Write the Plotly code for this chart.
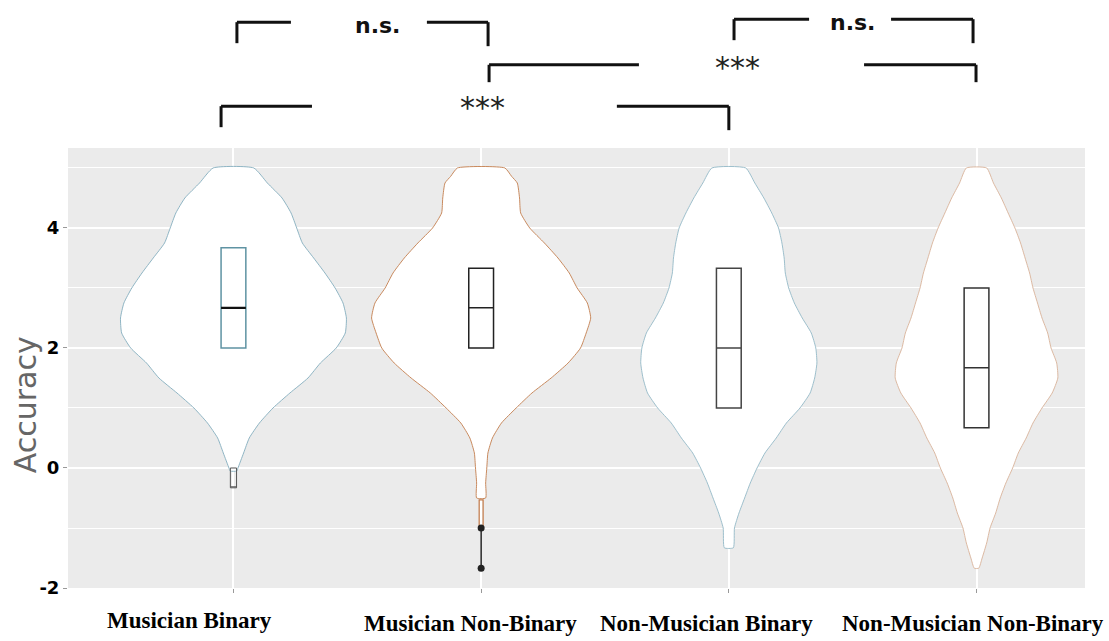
import plotly.graph_objects as go

# Groups on the x axis
groups = ["Musician Binary", "Musician Non-Binary",
          "Non-Musician Binary", "Non-Musician Non-Binary"]

# Violin density profiles: accuracy level and relative half-width (max = 1)
mb_y = [5.0, 4.75, 4.5, 4.25, 4.0, 3.75, 3.5, 3.25, 3.0, 2.75, 2.5, 2.25,
        2.0, 1.75, 1.5, 1.25, 1.0, 0.75, 0.5, 0.25, 0.0, -0.05]
mb_d = [0.18, 0.30, 0.43, 0.51, 0.56, 0.61, 0.71, 0.81, 0.90, 0.97, 1.00, 0.99,
        0.91, 0.77, 0.66, 0.50, 0.35, 0.23, 0.14, 0.09, 0.04, 0.03]

mnb_y = [5.0, 4.86, 4.75, 4.5, 4.25, 4.0, 3.75, 3.5, 3.25, 3.0, 2.75, 2.5,
         2.25, 2.0, 1.75, 1.5, 1.25, 1.0, 0.75, 0.5, 0.25, 0.0, -0.25, -0.5]
mnb_d = [0.21, 0.27, 0.32, 0.34, 0.35, 0.43, 0.56, 0.68, 0.78, 0.85, 0.94, 0.97,
         0.93, 0.88, 0.77, 0.62, 0.45, 0.31, 0.18, 0.10, 0.06, 0.05, 0.04, 0.04]

nmb_y = [5.0, 4.75, 4.5, 4.25, 4.0, 3.75, 3.5, 3.25, 3.0, 2.75, 2.5, 2.25, 2.0,
         1.75, 1.5, 1.25, 1.0, 0.75, 0.5, 0.25, 0.0, -0.25, -0.5, -0.75, -1.0, -1.33]
nmb_d = [0.15, 0.23, 0.31, 0.38, 0.44, 0.47, 0.49, 0.50, 0.53, 0.58, 0.65, 0.73, 0.77,
         0.78, 0.76, 0.72, 0.63, 0.51, 0.42, 0.32, 0.25, 0.19, 0.14, 0.09, 0.05, 0.04]

nmnb_y = [5.0, 4.75, 4.5, 4.25, 4.0, 3.75, 3.5, 3.25, 3.0, 2.75, 2.5, 2.25, 2.0, 1.75,
          1.5, 1.25, 1.0, 0.75, 0.5, 0.25, 0.0, -0.25, -0.5, -0.75, -1.0, -1.25, -1.5, -1.67]
nmnb_d = [0.09, 0.15, 0.22, 0.28, 0.34, 0.39, 0.43, 0.47, 0.50, 0.54, 0.58, 0.63, 0.66, 0.71,
          0.72, 0.67, 0.58, 0.50, 0.44, 0.37, 0.32, 0.26, 0.21, 0.17, 0.12, 0.09, 0.05, 0.02]

# Box statistics per group
q1 = [2.0, 2.0, 1.0, 0.67]
median = [2.67, 2.67, 2.0, 1.67]
q3 = [3.67, 3.33, 3.33, 3.0]

# Low tail values
mb_tail = [-0.33, 0.0]
mnb_tail = [-1.0, -0.53]
mnb_outliers = [-1.0, -1.67]

# Pairwise comparisons: (left group, right group, label)
comparisons = [(0, 1, "n.s."), (0, 2, "***"), (1, 3, "***"), (2, 3, "n.s.")]

# ---- styling ----
violin_line = ["#8fb5c4", "#c98a5e", "#9dbfcc", "#dcb9a2"]
box_line = ["#5f93a3", "#222222", "#444444", "#333333"]
HALF = 0.456          # max violin half-width in x units
BOX_W = 0.10
X_RANGE = [-0.668, 3.438]
Y_MIN, Y_MAX = -2.0, 5.333

profiles = [(mb_y, mb_d), (mnb_y, mnb_d), (nmb_y, nmb_d), (nmnb_y, nmnb_d)]

fig = go.Figure()

# violins (base axes)
for i, (ys, ds) in enumerate(profiles):
    xr = [i + d * HALF for d in ds]
    xl = [i - d * HALF for d in ds[::-1]]
    fig.add_trace(go.Scatter(
        x=xr + xl + [xr[0]], y=ys + ys[::-1] + [ys[0]],
        mode="lines", fill="toself", fillcolor="white",
        line=dict(color=violin_line[i], width=1, shape="spline", smoothing=0.5),
        hoverinfo="skip", showlegend=False))


# boxes go on an overlaid axis pair so they sit above the violin fills
def stat_box(pos, lo, mid, hi, width, color, lw):
    return go.Box(
        x=[pos], q1=[lo], median=[mid], q3=[hi],
        lowerfence=[lo], upperfence=[hi], orientation="v",
        width=width, whiskerwidth=0, fillcolor="rgba(0,0,0,0)",
        line=dict(color=color, width=lw), showlegend=False, hoverinfo="skip",
        xaxis="x2", yaxis="y2")


for i in range(4):
    fig.add_trace(stat_box(i, q1[i], median[i], q3[i], BOX_W, box_line[i], 1.5))

# black median stroke on the first box
fig.add_trace(stat_box(0, median[0], median[0], median[0], BOX_W, "#111111", 2.2))

# narrow tail boxes
fig.add_trace(stat_box(0, mb_tail[0], mb_tail[0], mb_tail[1], 0.025, "#555555", 1))
fig.add_trace(stat_box(1, mnb_tail[0], mnb_tail[0], mnb_tail[1], 0.016, "#c47a48", 1.2))

fig.add_trace(go.Scatter(
    x=[1] * len(mnb_outliers), y=mnb_outliers, mode="lines+markers",
    line=dict(color="#222222", width=1.5),
    marker=dict(color="#222222", size=7), showlegend=False,
    xaxis="x2", yaxis="y2"))

# ---- significance brackets ----
def to_paper(v):
    return (v - Y_MIN) / (Y_MAX - Y_MIN)

# per comparison: x offsets of left drop, left segment end, right segment start,
# right drop; bar level, left/right drop ends, label x, label level
bracket_geom = [
    (0.014, 0.232, -0.219, 0.028, 7.43, 7.08, 7.03, 0.583, 7.37),
    (-0.050, 0.317, -0.452, 0.000, 6.03, 5.68, 5.63, 1.007, 6.00),
    (0.032, 0.637, -0.454, -0.002, 6.72, 6.43, 6.43, 2.037, 6.67),
    (0.021, 0.324, -0.345, -0.014, 7.48, 7.13, 7.08, 2.501, 7.42),
]
line_style = dict(color="#111111", width=3)
for (a, b, label), g in zip(comparisons, bracket_geom):
    lx, le, rs, rx, lvl, ldrop, rdrop, tx, ty = g
    xl = a + lx
    xr = b + rx
    fig.add_shape(type="line", xref="x", yref="paper", x0=xl, x1=xl,
                  y0=to_paper(ldrop), y1=to_paper(lvl), line=line_style)
    fig.add_shape(type="line", xref="x", yref="paper", x0=xl, x1=a + le,
                  y0=to_paper(lvl), y1=to_paper(lvl), line=line_style)
    fig.add_shape(type="line", xref="x", yref="paper", x0=b + rs, x1=xr,
                  y0=to_paper(lvl), y1=to_paper(lvl), line=line_style)
    fig.add_shape(type="line", xref="x", yref="paper", x0=xr, x1=xr,
                  y0=to_paper(rdrop), y1=to_paper(lvl), line=line_style)
    ns = label == "n.s."
    fig.add_annotation(
        x=tx, y=to_paper(ty), xref="x", yref="paper",
        text=label, showarrow=False, xanchor="center", yanchor="middle",
        font=dict(family="DejaVu Sans", size=22 if ns else 30,
                  color="#111111" if ns else "#222222",
                  weight="bold" if ns else "normal"))

# ---- category labels ----
label_shift = [-44, -11, -22, -4]
label_y = [-0.073, -0.080, -0.080, -0.080]
for i, name in enumerate(groups):
    fig.add_annotation(
        x=i, y=label_y[i], xref="x", yref="paper", xshift=label_shift[i],
        text=name, showarrow=False, xanchor="center", yanchor="middle",
        font=dict(family="Liberation Serif", size=23, color="#000000", weight="bold"))

# y axis title
fig.add_annotation(
    x=-0.041, y=0.416, xref="paper", yref="paper", text="Accuracy",
    textangle=-90, showarrow=False, xanchor="center", yanchor="middle",
    font=dict(family="DejaVu Sans", size=30, color="#666666"))

fig.update_layout(
    width=1109, height=641,
    margin=dict(l=68, r=24, t=148, b=53),
    paper_bgcolor="white", plot_bgcolor="#EBEBEB",
    showlegend=False,
    xaxis=dict(range=X_RANGE, tickmode="array", tickvals=[0, 1, 2, 3],
               showticklabels=False, ticks="outside", ticklen=4, tickcolor="#999999",
               showgrid=True, gridcolor="white", gridwidth=1.5,
               zeroline=False, showline=False),
    yaxis=dict(range=[Y_MIN, Y_MAX], tickmode="array", tickvals=[-2, 0, 2, 4],
               ticktext=["-2", "0", "2", "4"],
               ticks="outside", ticklen=4, tickcolor="#999999",
               tickfont=dict(family="DejaVu Sans", size=18, color="#000000",
                             weight="bold"),
               showgrid=True, gridcolor="white", gridwidth=1.5,
               minor=dict(tickvals=[-1, 1, 3, 5], showgrid=True,
                          gridcolor="white", gridwidth=1, ticklen=0),
               zeroline=False, showline=False),
    xaxis2=dict(overlaying="x", range=X_RANGE, visible=False),
    yaxis2=dict(overlaying="y", range=[Y_MIN, Y_MAX], visible=False),
)

fig.write_html("out.html")
